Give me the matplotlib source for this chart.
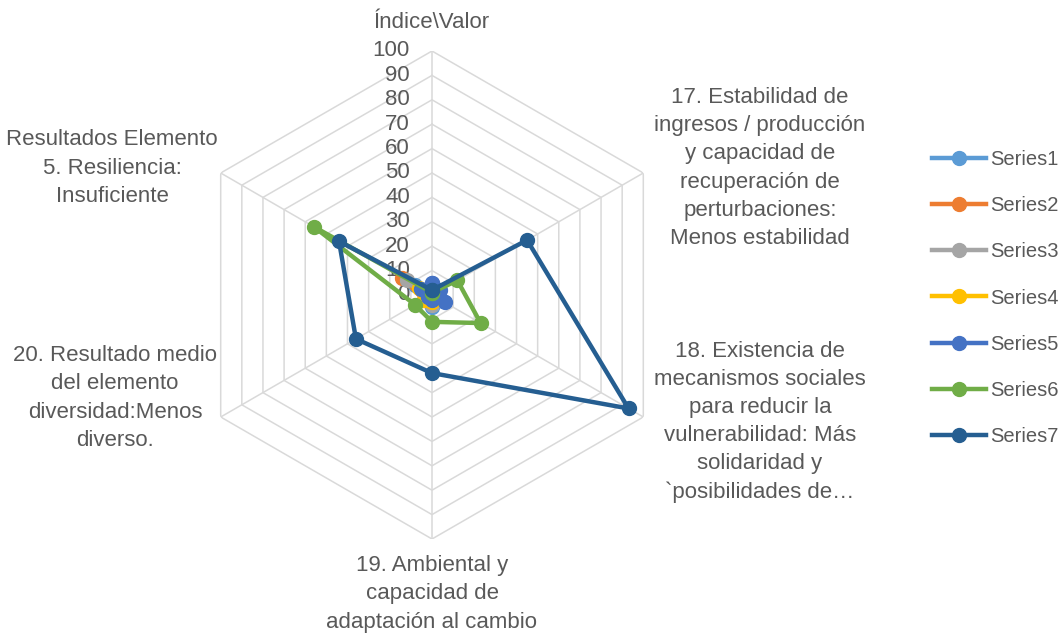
import numpy as np
import matplotlib
matplotlib.use("Agg")
import matplotlib.pyplot as plt
from matplotlib.lines import Line2D
from matplotlib.transforms import offset_copy

# Axis names (clockwise from the top)
categories = [
    "Índice\\Valor",
    "17. Estabilidad de\ningresos / producción\ny capacidad de\nrecuperación de\nperturbaciones:\nMenos estabilidad",
    "18. Existencia de\nmecanismos sociales\npara reducir la\nvulnerabilidad: Más\nsolidaridad y\n`posibilidades de…",
    "19. Ambiental y\ncapacidad de\nadaptación al cambio",
    "20. Resultado medio\ndel elemento\ndiversidad:Menos\ndiverso.",
    "Resultados Elemento\n5. Resiliencia:\nInsuficiente",
]

series_names = ["Series1", "Series2", "Series3", "Series4", "Series5", "Series6", "Series7"]
series1 = [3, 2, 5, 5, 3, 8]
series2 = [2, 3, 3, 3, 4, 14]
series3 = [2, 2, 3, 4, 3, 12]
series4 = [2, 2, 2, 3, 4, 6]
series5 = [5, 4, 6, 2, 2, 5]
series6 = [1, 12, 23, 11, 8, 56]
series7 = [2, 45, 93, 32, 36, 44]
all_series = [series1, series2, series3, series4, series5, series6, series7]

colors = ["#5B9BD5", "#ED7D31", "#A5A5A5", "#FFC000", "#4472C4", "#70AD47", "#255E91"]
r_ticks = list(range(0, 101, 10))

txt = "#595959"
plt.rcParams['font.family'] = ['Liberation Sans', 'DejaVu Sans']

W, H = 1064, 635
fig = plt.figure(figsize=(W / 100, H / 100), dpi=100)

# centre of the radar (px) and radius of the 100 ring
cx, cy, R = 432, 295, 244
ax = fig.add_axes([(cx - R) / W, (H - cy - R) / H, 2 * R / W, 2 * R / H], projection="polar")
ax.set_theta_zero_location("N")
ax.set_theta_direction(-1)
ax.set_ylim(0, 100)
ax.grid(False)
ax.set_xticks([])
ax.set_yticks([])
ax.spines["polar"].set_visible(False)
ax.patch.set_alpha(0)

n = len(categories)
angles = np.linspace(0, 2 * np.pi, n, endpoint=False)
closed = np.append(angles, angles[0])

# hexagonal gridlines and spokes
for v in r_ticks[1:]:
    ax.plot(closed, [v] * (n + 1), color="#D9D9D9", lw=1.1, zorder=1)
for a in angles:
    ax.plot([a, a], [0, 100], color="#D9D9D9", lw=1.1, zorder=1)

# value labels along the top spoke
lab_tr = offset_copy(ax.transData, fig=fig, x=-16, y=0, units="points")
for v in r_ticks:
    ax.text(0, v, str(v), transform=lab_tr, ha="right", va="center",
            fontsize=16, color=txt, zorder=2)

for vals, c in zip(all_series, colors):
    ax.plot(closed, vals + vals[:1], color=c, lw=3.2, marker="o",
            markersize=10, zorder=3)

# category labels
label_pos = [(432, 22), (760, 168), (760, 422), (432, 594), (115, 398), (112, 168)]
for lab, (x, y) in zip(categories, label_pos):
    fig.text(x / W, 1 - y / H, lab, ha="center", va="center", fontsize=16,
             color=txt, linespacing=1.45)

handles = [Line2D([], [], color=c, lw=3.2, marker="o", markersize=10) for c in colors]
fig.legend(handles, series_names, loc="center left", bbox_to_anchor=(922 / W, 1 - 298 / H),
           frameon=False, fontsize=14.5, labelcolor=txt, labelspacing=1.35,
           handlelength=2.7, handletextpad=0.2, borderpad=0)

fig.savefig("out.png", dpi=100)
